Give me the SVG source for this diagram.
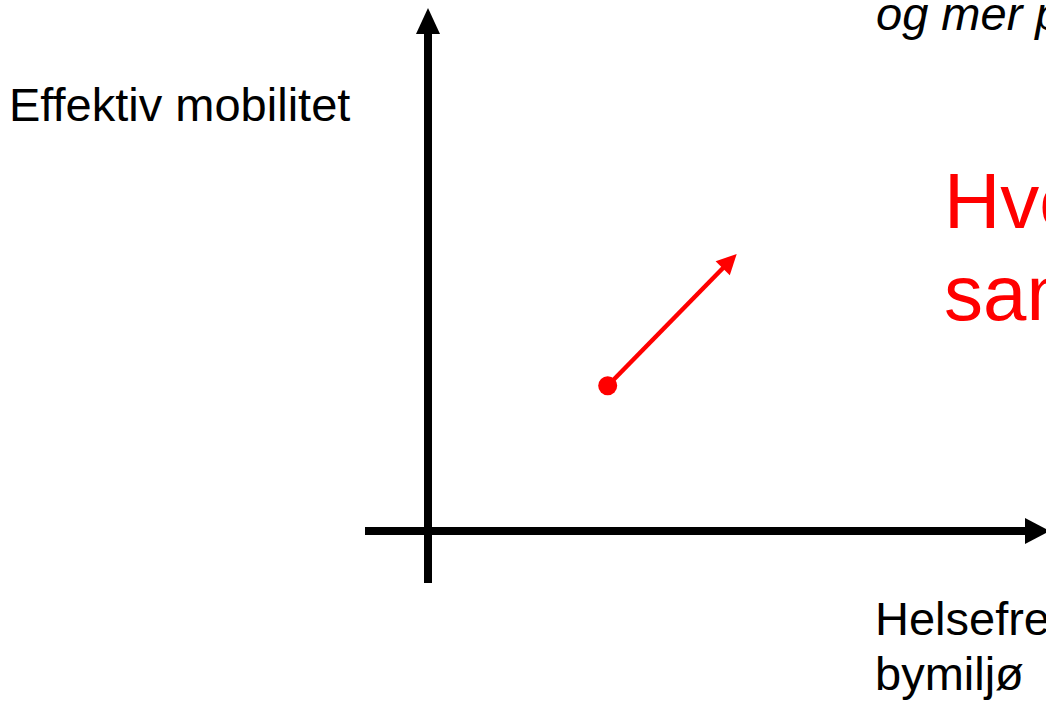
<svg xmlns="http://www.w3.org/2000/svg" width="1046" height="702" viewBox="0 0 1046 702">
<style>
text{font-family:"Liberation Sans",Arial,sans-serif}
.lbl{font-size:47px;fill:#000}
.red{font-size:78px;fill:#ff0000}
.axis{stroke:#000;stroke-width:8;fill:none}
</style>
<rect width="1046" height="702" fill="#fff"/>
<g id="connectors">
<g id="y-axis"><line class="axis" x1="428" y1="583" x2="428" y2="30"/><polygon points="416,34 440,34 428,8" fill="#000"/></g>
<g id="x-axis"><line class="axis" x1="365" y1="531" x2="1028" y2="531"/><polygon points="1025,518 1025,544 1050,531" fill="#000"/></g>
<g id="red-arrow"><line x1="607.7" y1="385.7" x2="724" y2="267" stroke="#ff0000" stroke-width="4.5"/><polygon points="736.7,254 729.8,275.3 715.6,261.3" fill="#ff0000"/><circle cx="607.7" cy="385.7" r="9.5" fill="#ff0000"/></g>
</g>
<g id="label-y"><text class="lbl" x="9" y="121">Effektiv mobilitet</text></g>
<g id="label-top"><text class="lbl" x="876" y="30" font-style="italic">og mer p</text></g>
<g id="label-x"><text class="lbl" x="875" y="635">Helsefre</text><text class="lbl" x="875" y="690">bymiljø</text></g>
<g id="question"><text class="red" x="944" y="228">Hvo</text><text class="red" x="944" y="320">sam</text></g>
</svg>
